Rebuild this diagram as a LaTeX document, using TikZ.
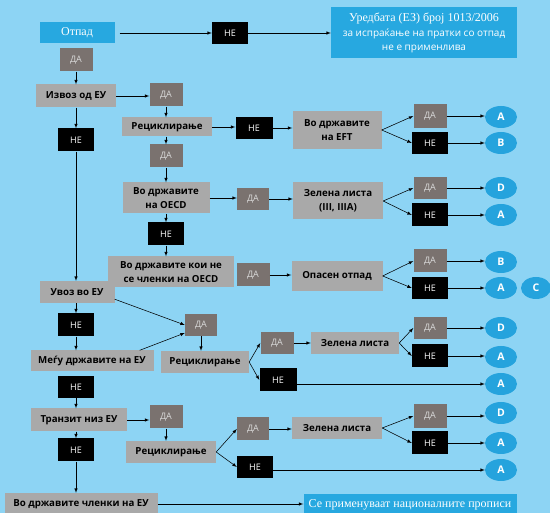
\documentclass[tikz,border=0pt]{standalone}
\usepackage{fontspec}
\setmainfont{Liberation Serif}
\newfontfamily\osans{Open Sans}
\usetikzlibrary{arrows,shapes.geometric}
\definecolor{bgblue}{HTML}{8DD4F4}
\definecolor{boxblue}{HTML}{27A8E0}
\definecolor{ovalblue}{HTML}{25A3DD}
\definecolor{boxgray}{HTML}{A9A9A9}
\definecolor{dagray}{HTML}{7A726F}

\begin{document}
\begin{tikzpicture}[x=1pt,y=-1pt,
    gbox/.style={fill=boxgray,inner sep=0pt,align=center,font=\osans\bfseries\fontsize{9.7}{13.5}\selectfont},
    dabox/.style={fill=dagray,text=white!85!black,minimum width=33pt,minimum height=23pt,inner sep=0pt,font=\osans\fontsize{9}{10}\selectfont},
    nebox/.style={fill=black,text=white,minimum width=36pt,minimum height=23pt,inner sep=0pt,font=\osans\fontsize{9}{10}\selectfont},
    bbox/.style={fill=boxblue,text=white,inner sep=0pt,align=center},
    oval/.style={ellipse,fill=ovalblue,text=white,minimum width=32pt,minimum height=22pt,inner sep=0pt,font=\osans\bfseries\fontsize{10.5}{11}\selectfont},
    arr/.style={-latex,line width=0.55pt}]
    \useasboundingbox (0,0) rectangle (550,513);
    \fill[bgblue] (0,0) rectangle (550,513); % background
    % top row
    \node[bbox,minimum width=75pt,minimum height=21pt,font=\fontsize{12}{14}\selectfont] (otpad) at (77,33) {Отпад};
    \node[dabox] (da0) at (76,60) {ДА};
    \node[nebox,minimum height=22pt] (ne0) at (230,33) {НЕ};
    \node[bbox,minimum width=186pt,minimum height=51pt,font=\osans\fontsize{10}{14.5}\selectfont] (uredba) at (424,33)
        {{\rmfamily\fontsize{12}{14.5}\selectfont Уредбата (ЕЗ) број 1013/2006}\\за испраќање на пратки со отпад\\не е применлива};
    % export
    \node[gbox,minimum width=80pt,minimum height=23pt] (izvoz) at (76,96) {Извоз од ЕУ};
    \node[dabox] (da1) at (166,95) {ДА};
    \node[nebox] (ne1) at (76,140) {НЕ};
    \node[gbox,minimum width=90pt,minimum height=19pt] (recik1) at (167,127) {Рециклирање};
    \node[nebox,minimum width=37pt,minimum height=22pt] (ne2) at (254,128) {НЕ};
    \node[gbox,minimum width=89pt,minimum height=38pt] (eft) at (337,130) {Во државите\\на EFT};
    \node[dabox,minimum height=24pt] (da2) at (430,116) {ДА};
    \node[nebox,minimum height=22pt] (ne3) at (430,143) {НЕ};
    \node[oval] (eA1) at (501,117) {A};
    \node[oval] (eB1) at (501,143) {B};
    \node[dabox] (da3) at (166,156) {ДА};
    \node[gbox,minimum width=87pt,minimum height=31pt] (oecd) at (166,198) {Во државите\\на OECD};
    \node[dabox,minimum width=32pt,minimum height=22pt] (da4) at (253,199) {ДА};
    \node[gbox,minimum width=90pt,minimum height=37pt] (zel1) at (338,201) {Зелена листа\\(III, IIIA)};
    \node[dabox,minimum height=22pt] (da5) at (430,188) {ДА};
    \node[nebox] (ne4) at (430,215) {НЕ};
    \node[oval] (eD1) at (501,188) {D};
    \node[oval] (eA2) at (501,215) {A};
    \node[nebox] (ne5) at (166,234) {НЕ};
    % import
    \node[gbox,minimum width=75pt,minimum height=22pt] (uvoz) at (77,292) {Увоз во ЕУ};
    \node[gbox,minimum width=126pt,minimum height=31pt] (nonoecd) at (171,272) {Во државите кои не\\се членки на OECD};
    \node[dabox] (da6) at (253,275) {ДА};
    \node[gbox,minimum width=91pt,minimum height=30pt] (opasen) at (337,276) {Опасен отпад};
    \node[dabox] (da7) at (430,261) {ДА};
    \node[nebox,minimum height=22pt] (ne6) at (430,288) {НЕ};
    \node[oval] (eB2) at (501,262) {B};
    \node[oval] (eA3) at (501,288) {A};
    \node[oval,minimum width=30pt] (eC) at (536,288) {C};
    \node[nebox] (ne7) at (76,325) {НЕ};
    \node[dabox,minimum width=32pt,minimum height=22pt] (da8) at (201,325) {ДА};
    \node[gbox,minimum width=123pt,minimum height=21pt] (megu) at (92,361) {Меѓу државите на ЕУ};
    \node[gbox,minimum width=88pt,minimum height=22pt] (recik2) at (205,362) {Рециклирање};
    \node[dabox,minimum height=22pt] (da9) at (277,343) {ДА};
    \node[gbox,minimum width=88pt,minimum height=22pt] (zel2) at (355,343) {Зелена листа};
    \node[dabox,minimum height=22pt] (da10) at (430,328) {ДА};
    \node[nebox] (ne8) at (430,356) {НЕ};
    \node[oval] (eD2) at (501,328) {D};
    \node[oval] (eA4) at (501,357) {A};
    \node[nebox,minimum width=37pt] (ne9) at (278,380) {НЕ};
    \node[oval] (eA5) at (501,384) {A};
    % transit
    \node[nebox,minimum height=22pt] (ne10) at (76,387) {НЕ};
    \node[gbox,minimum width=96pt,minimum height=23pt] (tranzit) at (79,420) {Транзит низ ЕУ};
    \node[dabox] (da11) at (166,417) {ДА};
    \node[gbox,minimum width=90pt,minimum height=22pt] (recik3) at (171,452) {Рециклирање};
    \node[dabox,minimum width=32pt] (da12) at (253,429) {ДА};
    \node[gbox,minimum width=90pt,minimum height=22pt] (zel3) at (337,428) {Зелена листа};
    \node[dabox,minimum height=24pt] (da13) at (430,416) {ДА};
    \node[nebox] (ne11) at (430,443) {НЕ};
    \node[oval] (eD3) at (501,413) {D};
    \node[oval] (eA6) at (501,443) {A};
    \node[nebox,minimum height=22pt] (ne12) at (255,467) {НЕ};
    \node[oval] (eA7) at (501,470) {A};
    \node[nebox] (ne13) at (76,450) {НЕ};
    \node[gbox,minimum width=153pt,minimum height=22pt] (clenki) at (81,504) {Во државите членки на ЕУ};
    \node[bbox,minimum width=213pt,minimum height=22pt,font=\fontsize{12}{14}\selectfont] (nacionalni) at (410,505) {Се применуваат националните прописи};
    % connectors
    \draw[arr,shorten <=5pt] (otpad) -- (ne0);
    \draw[arr] (ne0) -- (uredba);
    \draw[arr] (da0) -- (izvoz);
    \draw[arr] (izvoz) -- (izvoz -| da1.west);
    \draw[arr] (izvoz) -- (ne1);
    \draw[arr] (da1) -- (da1 |- recik1.north);
    \draw[arr] (recik1) -- (recik1 -| ne2.west);
    \draw[arr] (ne2) -- (ne2 -| eft.west);
    \draw[arr] (recik1.south -| da3) -- (da3);
    \draw[arr] (da3) -- (oecd);
    \draw[arr] (oecd) -- (oecd -| da4.west);
    \draw[arr] (da4) -- (da4 -| zel1.west);
    \draw[arr] (oecd) -- (ne5);
    \draw[arr] (ne5) -- (ne5 |- nonoecd.north);
    \draw[arr] (da6) -- (da6 -| opasen.west);
    \draw[arr] (ne1) -- (ne1 |- uvoz.north);
    \draw[arr] (uvoz.south -| ne7) -- (ne7);
    \draw[arr] ([yshift=4pt]uvoz.south east) -- (da8.west);
    \draw[arr] ([xshift=-14pt]megu.north east) -- ([yshift=-8pt]da8.west);
    \draw[arr] (da8) -- (da8 |- recik2.north);
    \draw[arr] (da9) -- (da9 -| zel2.west);
    \draw[arr] (ne7) -- (ne7 |- megu.north);
    \draw[arr] (ne10) -- (ne10 |- tranzit.north);
    \draw[arr] (tranzit) -- (tranzit -| da11.west);
    \draw[arr] (da11) -- (da11 |- recik3.north);
    \draw[arr] (da12) -- (da12 -| zel3.west);
    \draw[arr] (tranzit.south -| ne13) -- (ne13);
    \draw[arr] (ne13) -- (ne13 |- clenki.north);
    \draw[arr] (clenki) -- (clenki -| nacionalni.west);
    % branches to ДА / НЕ
    \foreach \s/\d/\n in {eft/da2/ne3,zel1/da5/ne4,opasen/da7/ne6,recik2/da9/ne9,zel2/da10/ne8,recik3/da12/ne12,zel3/da13/ne11}
    {
        \draw[arr] (\s.east) -- (\d.west);
        \draw[arr] (\s.east) -- (\n.west);
    }
    % to the letters
    \foreach \a/\b in {da2/eA1,ne3/eB1,da5/eD1,ne4/eA2,da7/eB2,ne6/eA3,da10/eD2,ne8/eA4,da13/eD3,ne11/eA6}
    \draw[arr] (\a) -- (\a -| \b.west);
    \draw[arr] (ne9.east |- eA5) -- (eA5.west);
    \draw[arr] (ne12.east |- eA7) -- (eA7.west);
\end{tikzpicture}
\end{document}
